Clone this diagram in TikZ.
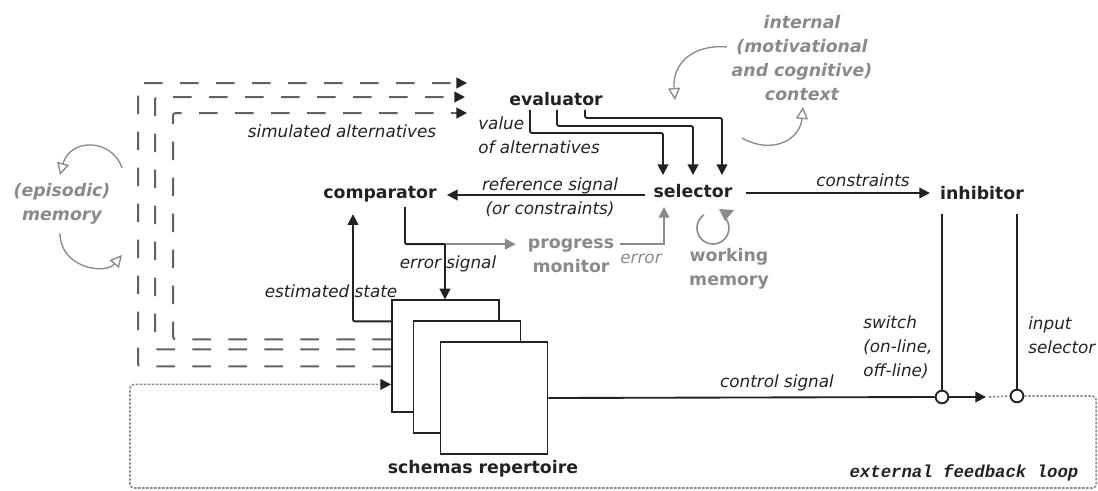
\documentclass[tikz,border=0pt]{standalone}
\usepackage{fontspec}
\setmainfont{DejaVu Sans}
\newfontfamily\monofont{Liberation Mono}
\usetikzlibrary{arrows.meta,calc}
\definecolor{ink}{HTML}{222222}
\definecolor{soft}{HTML}{8A8A8A}
\tikzset{
  lbl/.style={font=\fontsize{12.6}{18}\selectfont\itshape, inner sep=0pt, text=ink},
  nm/.style={font=\fontsize{13}{18}\selectfont\bfseries, inner sep=0pt, text=ink},
  gnm/.style={font=\fontsize{13}{18}\selectfont\bfseries, inner sep=0pt, text=soft, align=center},
  ginm/.style={font=\fontsize{13}{18}\selectfont\bfseries\itshape, inner sep=0pt, text=soft, align=center},
  ln/.style={line width=1.4pt, draw=ink, rounded corners=1.5pt},
  tip/.style={-{Triangle[length=8pt,width=8pt]}},
  arr/.style={ln, tip},
  garr/.style={line width=1.4pt, draw=soft, -{Triangle[length=8pt,width=8pt,color=soft]}},
  dsh/.style={line width=1.5pt, draw=black!62, rounded corners=2pt, dash pattern=on 14pt off 13pt,
              -{Triangle[length=8pt,width=8pt,color=ink]}},
  fb/.style={line width=1.2pt, draw=black!45, rounded corners=3pt, dash pattern=on 1.8pt off 1.2pt},
  garc/.style={line width=1pt, draw=soft, -{Triangle[open,length=9pt,width=9pt]}},
  box/.style={draw=ink, line width=1.4pt, fill=white, minimum width=80.25pt, minimum height=83.5pt, inner sep=0pt},
  sw/.style={circle, draw=ink, line width=1.4pt, fill=white, minimum size=9.5pt, inner sep=0pt}
}
\begin{document}
\begin{tikzpicture}[x=0.75pt,y=-0.75pt]
\useasboundingbox (0,0) rectangle (1098,490);

% schema boxes
\node[box] (b1) at (445.5,356) {};
\node[box] (b2) at (467,377) {};
\node[box] (b3) at (494,398) {};
\node[nm] (schlbl) at (483,469) {schemas repertoire};

% main nodes
\node[nm] (evaluator) at (556,99) {evaluator};
\node[nm] (selector) at (693,191) {selector};
\node[nm] (comparator) at (380,194) {comparator};
\node[nm] (inhibitor) at (982,193) {inhibitor};
\node[gnm] (progress) at (571,256) {progress\\monitor};
\node[gnm] (workmem) at (729,269) {working\\memory};
\node[ginm] (context) at (802,58) {internal\\(motivational\\and cognitive)\\context};
\node[ginm] (episodic) at (62,204) {(episodic)\\memory};

% switches
\node[sw] (sw1) at (942,397) {};
\node[sw] (sw2) at (1017,396) {};

% labels
\node[lbl] (simlbl) at (342,131) {simulated alternatives};
\node[lbl, align=left, anchor=west] (vallbl) at (478,135) {value\\of alternatives};
\node[lbl, align=center] (reflbl) at (550,197) {reference signal\\(or constraints)};
\node[lbl] (conlbl) at (863,180) {constraints};
\node[lbl] (errsig) at (448,264) {error signal};
\node[lbl] (estlbl) at (331,291) {estimated state};
\node[lbl, text=soft] (errlbl) at (641,259) {error};
\node[lbl] (ctrl) at (777,383) {control signal};
\node[lbl, align=left, anchor=west] (swlbl) at (863,347) {switch\\(on-line,\\off-line)};
\node[lbl, align=left, anchor=west] (inlbl) at (1028,335) {input\\selector};
\node[font={\monofont\fontsize{13}{16}\selectfont\bfseries\itshape}, inner sep=0pt, text=ink] (extlbl) at (964,473) {external feedback loop};

% evaluator -> selector
\draw[arr] ($(evaluator.south)+(-26,4)$) -- ++(0,23) -| ($(selector.north)+(-30,-9)$);
\draw[arr] ($(evaluator.south)+(1,4)$) -- ++(0,16) -| ($(selector.north)+(0,-9)$);
\draw[arr] ($(evaluator.south)+(29,4)$) -- ++(0,8) -| ($(selector.north)+(29,-9)$);

% selector -> comparator, selector -> inhibitor
\draw[arr] ($(selector.west)+(-8,4)$) -- ($(comparator.east |- selector.west)+(10,4)$);
\draw[arr] ($(selector.east)+(13,2)$) -- ($(inhibitor.west |- selector.east)+(-10,2)$);

% comparator -> progress monitor / schemas
\coordinate (J) at ($(comparator.south)+(65,42)$);
\draw[ln] ($(comparator.south)+(25,5)$) |- (J);
\draw[garr] (J) -- ($(progress.west |- J)+(-12,0)$);
\draw[arr] (J) -- (J |- b1.north);

% progress monitor -> selector
\draw[garr] ($(progress.east |- J)+(6,0)$) -| ($(selector.south)+(-29,9)$);

% estimated state
\draw[arr] ($(b1.north west)+(0,22)$) -| ($(comparator.south)+(-27,12)$);

% simulated alternatives (dashed)
\coordinate (d1) at (467,83);
\coordinate (d2) at (465,97);
\coordinate (d3) at (467,113);
\draw[dsh] ($(b1.north west)+(0,67)$) -| (138,83) -- (d1);
\draw[dsh] ($(b1.north west)+(0,50)$) -| (155,97) -- (d2);
\draw[dsh] ($(b1.north west)+(0,40)$) -| (173,113) -- (d3);

% control signal
\coordinate (ct) at (986,397);
\draw[ln] (b3.east) -- (sw1.west);
\draw[arr] (sw1.east) -- (ct);
\draw[fb] ($(ct)+(3,0)$) -- (sw2.west);
\draw[fb, -{Triangle[length=8pt,width=8pt,color=ink]}] (sw2.east) -- ++(72,0) |- (130,488) |- ($(b1.north west)+(0,85)$);

% inhibitor lines
\draw[ln] ($(inhibitor.south -| sw1)+(0,14)$) -- (sw1.north);
\draw[ln] ($(inhibitor.south -| sw2)+(0,14)$) -- (sw2.north);

% working memory loop
\draw[line width=1.2pt, draw=soft] (703.8,214.9) arc[start angle=235, end angle=-40, radius=16];
\fill[soft] (719,209) -- (734,210) -- (725,221) -- cycle;

% context arcs
\draw[garc] (727,47) .. controls (695,44) and (672,62) .. (675,100);
\draw[garc] (742,138) .. controls (772,155) and (800,140) .. (803,107);
\draw[garc] (122,168) .. controls (112,138) and (70,138) .. (60,175);
\draw[garc] (60,233) .. controls (60,268) and (105,275) .. (122,255);
\end{tikzpicture}
\end{document}
